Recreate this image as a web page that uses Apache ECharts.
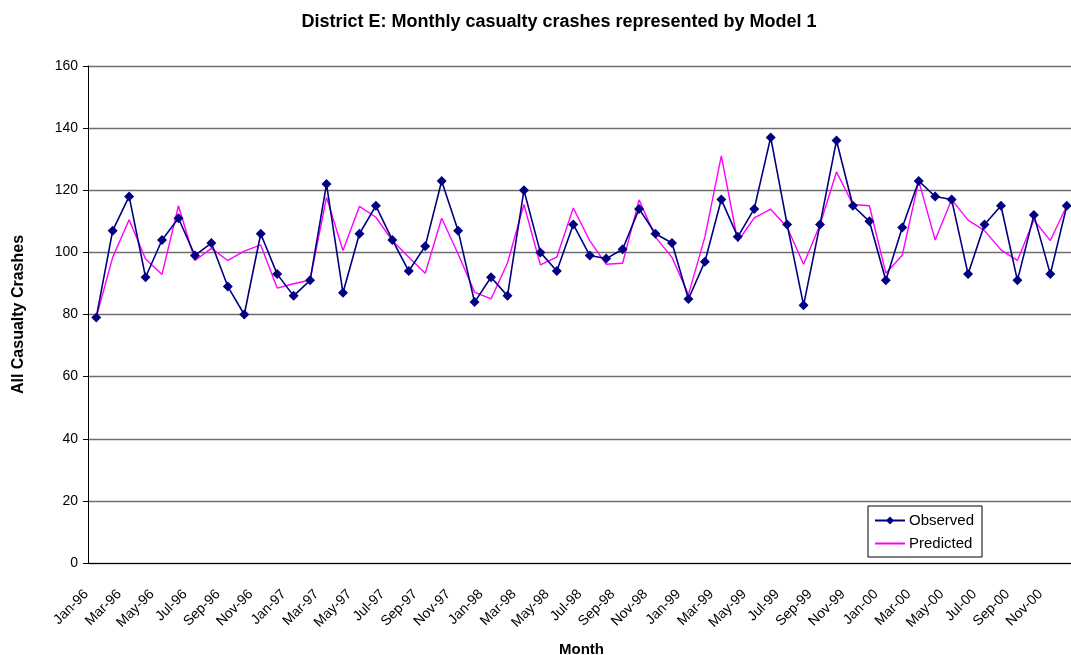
<!DOCTYPE html>
<html>
<head>
<meta charset="utf-8">
<title>District E: Monthly casualty crashes</title>
<script src="https://cdn.jsdelivr.net/npm/echarts@6/dist/echarts.min.js"></script>
<style>
  html, body { margin: 0; padding: 0; background: #ffffff; }
  #chart { width: 1071px; height: 655px; }
</style>
</head>
<body>
<div id="chart"></div>
<script>
// Months Jan-96 .. Dec-00
const months = [
  'Jan-96','Feb-96','Mar-96','Apr-96','May-96','Jun-96','Jul-96','Aug-96','Sep-96','Oct-96','Nov-96','Dec-96',
  'Jan-97','Feb-97','Mar-97','Apr-97','May-97','Jun-97','Jul-97','Aug-97','Sep-97','Oct-97','Nov-97','Dec-97',
  'Jan-98','Feb-98','Mar-98','Apr-98','May-98','Jun-98','Jul-98','Aug-98','Sep-98','Oct-98','Nov-98','Dec-98',
  'Jan-99','Feb-99','Mar-99','Apr-99','May-99','Jun-99','Jul-99','Aug-99','Sep-99','Oct-99','Nov-99','Dec-99',
  'Jan-00','Feb-00','Mar-00','Apr-00','May-00','Jun-00','Jul-00','Aug-00','Sep-00','Oct-00','Nov-00','Dec-00'
];

// Observed monthly casualty crashes
const observed = [
  79, 107, 118, 92, 104, 111, 99, 103, 89, 80, 106, 93,
  86, 91, 122, 87, 106, 115, 104, 94, 102, 123, 107, 84,
  92, 86, 120, 100, 94, 109, 99, 98, 101, 114, 106, 103,
  85, 97, 117, 105, 114, 137, 109, 83, 109, 136, 115, 110,
  91, 108, 123, 118, 117, 93, 109, 115, 91, 112, 93, 115
];

// Model 1 predictions
const predicted = [
  79, 98.4, 110.5, 97.9, 92.9, 115, 97.4, 101.3, 97.4, 100.4, 102.4, 88.5,
  89.9, 91.1, 117.7, 100.6, 114.8, 111.3, 103.8, 98.4, 93.3, 111, 99.5, 87.2,
  85, 96.6, 115.4, 96, 98.5, 114.3, 103.8, 96.2, 96.5, 116.9, 104.9, 98.4,
  86.4, 104.9, 131.1, 103.5, 111.1, 113.9, 108.1, 96.2, 108.9, 125.9, 115.4, 115,
  93.3, 99.1, 123, 104, 117, 110.4, 107, 100.8, 97.4, 110.4, 103.8, 115
];

const yTicks = { min: 0, max: 160, step: 20 };

const chart = echarts.init(document.getElementById('chart'), null, { renderer: 'canvas' });

const font = 'Arial, "Liberation Sans", Helvetica, sans-serif';

chart.setOption({
  backgroundColor: '#ffffff',
  animation: false,
  title: {
    text: 'District E: Monthly casualty crashes represented by Model 1',
    left: 554,
    textAlign: 'center',
    top: 8,
    textStyle: { fontFamily: font, fontSize: 18, fontWeight: 'bold', color: '#000' }
  },
  legend: {
    orient: 'vertical',
    left: 868,
    top: 506,
    width: 114,
    padding: [7, 8, 6, 6],
    itemGap: 8,
    itemWidth: 30,
    itemHeight: 10,
    borderColor: '#000',
    borderWidth: 1,
    backgroundColor: '#fff',
    textStyle: { fontFamily: font, fontSize: 15, color: '#000', padding: [0, 0, 0, -1] },
    data: [
      { name: 'Observed' },
      { name: 'Predicted', itemStyle: { opacity: 0 } }
    ]
  },
  grid: { left: 88, right: -4, top: 66, bottom: 92, containLabel: false, outerBoundsMode: 'none' },
  xAxis: {
    type: 'category',
    data: months,
    boundaryGap: true,
    name: 'Month',
    nameLocation: 'middle',
    nameGap: 79,
    nameTextStyle: { fontFamily: font, fontSize: 15, fontWeight: 'bold', color: '#000' },
    axisLine: { lineStyle: { color: '#000', width: 1 } },
    axisTick: { interval: 1, length: 5, lineStyle: { color: '#000' } },
    axisLabel: {
      interval: 1,
      rotate: 45,
      margin: 19,
      padding: [0, 14, 0, 0],
      fontFamily: font,
      fontSize: 14,
      color: '#000'
    },
    splitLine: { show: false }
  },
  yAxis: {
    type: 'value',
    min: yTicks.min,
    max: yTicks.max,
    interval: yTicks.step,
    name: 'All Casualty Crashes',
    nameLocation: 'middle',
    nameGap: 61,
    nameTextStyle: { fontFamily: font, fontSize: 16, fontWeight: 'bold', color: '#000' },
    axisLine: { show: true, lineStyle: { color: '#000', width: 1 } },
    axisTick: { show: true, length: 5, lineStyle: { color: '#000' } },
    axisLabel: { fontFamily: font, fontSize: 14, color: '#000', margin: 10 },
    splitLine: { show: true, lineStyle: { color: '#6e6e6e', width: 1.4 } }
  },
  series: [
    {
      name: 'Observed',
      type: 'line',
      data: observed,
      symbol: 'diamond',
      symbolSize: 10,
      lineStyle: { color: '#000080', width: 1.6 },
      itemStyle: { color: '#000080' },
      z: 3
    },
    {
      name: 'Predicted',
      type: 'line',
      data: predicted,
      showSymbol: false,
      symbol: 'none',
      lineStyle: { color: '#ff00ff', width: 1.4 },
      itemStyle: { color: '#ff00ff' },
      z: 2
    }
  ]
});
</script>
</body>
</html>
